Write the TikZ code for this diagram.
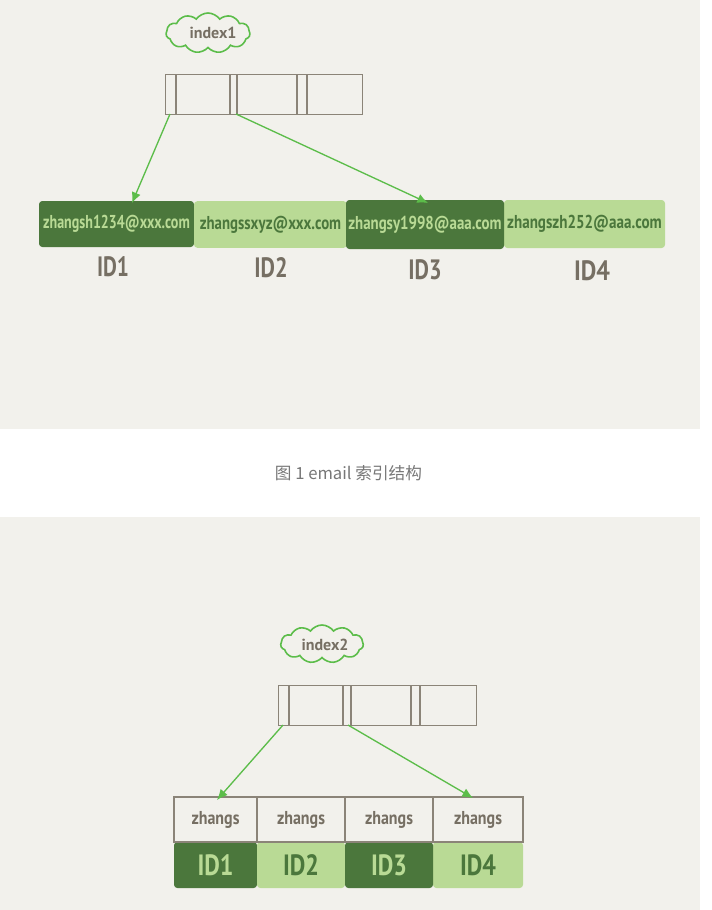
\documentclass[tikz,border=0pt]{standalone}
\usepackage{fontspec}
\setmainfont{PT Sans}
\newfontfamily\cjk{Noto Sans CJK SC}
\usetikzlibrary{shapes.symbols,arrows.meta,calc}
\definecolor{bg}{HTML}{F2F1EC}
\definecolor{dkg}{HTML}{4B773C}
\definecolor{ltg}{HTML}{B9DA95}
\definecolor{arr}{HTML}{5CBD4A}
\definecolor{boxc}{HTML}{8B8478}
\definecolor{txtg}{HTML}{766F63}
\definecolor{capc}{HTML}{777777}
\newcommand\squeeze[2]{\resizebox{#1}{\height}{#2}}
\begin{document}
\begin{tikzpicture}[x=0.75pt,y=-0.75pt,
  panel/.style={fill=bg,draw=none},
  cloudy/.style={cloud,cloud puffs=11,cloud puff arc=110,aspect=2.2,draw=arr,line width=1.2pt,fill=bg,inner sep=0pt},
  cloudtext/.style={text=txtg,font=\bfseries\fontsize{12}{12}\selectfont},
  boxline/.style={draw=boxc,line width=1.1pt},
  arrowst/.style={draw=arr,line width=1pt,-{Latex[length=8pt,width=7pt]}},
  darkbar/.style={fill=dkg,draw=none,rounded corners=2.5pt,inner sep=0pt,text=ltg},
  lightbar/.style={fill=ltg,draw=none,rounded corners=2.5pt,inner sep=0pt,text=dkg},
  idlab/.style={text=txtg,font=\bfseries\fontsize{21}{21}\selectfont,inner sep=0pt},
  cell/.style={draw=boxc,line width=1.1pt,inner sep=0pt,text=txtg,font=\bfseries\fontsize{14}{14}\selectfont},
  idcell/.style={inner sep=0pt,font=\bfseries\fontsize{22}{22}\selectfont}
]
\useasboundingbox (0,0) rectangle (712,910);
\fill[white] (0,0) rectangle (712,910);
\path[panel] (0,0) rectangle (700,429);
\path[panel] (0,517) rectangle (700,910);

% ---------- figure 1 ----------
\node[cloudy,minimum width=63pt,minimum height=30pt] (c1) at (208,33) {};
\node[cloudtext] (c1t) at (213,33) {index1};

\node[boxline,inner sep=0pt,minimum width=147.75pt,minimum height=30pt,anchor=north west] (ix1) at (165,74) {};
\foreach \xx in {176,230,237,297,307} \draw[boxline] (\xx,74) -- (\xx,114);

\node[darkbar,minimum width=116.25pt,minimum height=34.5pt] (e1) at (116.5,224) {\squeeze{110pt}{\bfseries\fontsize{14}{14}\selectfont zhangsh1234@xxx.com}};
\node[lightbar,minimum width=114.75pt,minimum height=35pt] (e2) at (270.5,224.5) {\squeeze{106pt}{\bfseries\fontsize{14}{14}\selectfont zhangssxyz@xxx.com}};
\node[lightbar,minimum width=120.75pt,minimum height=36pt] (e4) at (584.5,224) {\squeeze{116pt}{\bfseries\fontsize{14}{14}\selectfont zhangszh252@aaa.com}};
\node[darkbar,minimum width=118.5pt,minimum height=36.75pt] (e3) at (425,224.5) {\squeeze{115pt}{\bfseries\fontsize{14}{14}\selectfont zhangsy1998@aaa.com}};

\node[idlab] (id1) at (113,267) {\squeeze{24pt}{ID1}};
\node[idlab] (id2) at (271,268) {\squeeze{25pt}{ID2}};
\node[idlab] (id3) at (425,270) {\squeeze{25pt}{ID3}};
\node[idlab] (id4) at (592,271) {\squeeze{27pt}{ID4}};

\coordinate (s1) at (170,114);
\coordinate (t1) at (132,203);
\coordinate (s2) at (236,114);
\coordinate (t2) at (428,203);
\draw[arrowst] (s1) -- (t1);
\draw[arrowst] (s2) -- (t2);

% caption
\node[text=capc,font=\cjk\fontsize{12.5}{14}\selectfont,inner sep=0pt] (cap) at (348.5,473) {图 1 email 索引结构};

% ---------- figure 2 ----------
\node[cloudy,minimum width=62pt,minimum height=28.5pt] (c2) at (322,644) {};
\node[cloudtext] (c2t) at (325,645) {index2};

\node[boxline,inner sep=0pt,minimum width=148.5pt,minimum height=30pt,anchor=north west] (ix2) at (278,685) {};
\foreach \xx in {289,343,351,411,420} \draw[boxline] (\xx,685) -- (\xx,725);

% bottom coloured row
\node[darkbar,idcell,minimum width=62.25pt,minimum height=34.5pt] (b1) at (215.5,865) {\squeeze{27pt}{ID1}};
\node[lightbar,idcell,minimum width=66pt,minimum height=34.5pt] (b2) at (301,865) {\squeeze{27pt}{ID2}};
\node[lightbar,idcell,minimum width=67.5pt,minimum height=34.5pt] (b4) at (478,865) {\squeeze{27pt}{ID4}};
\node[darkbar,idcell,minimum width=66pt,minimum height=34.5pt] (b3) at (389,865) {\squeeze{27pt}{ID3}};

% top row of cells
\node[cell,minimum width=62.25pt,minimum height=33.75pt] (z1) at (215.5,819.5) {\squeeze{36pt}{zhangs}};
\node[cell,minimum width=66pt,minimum height=33.75pt] (z2) at (301,819.5) {\squeeze{36pt}{zhangs}};
\node[cell,minimum width=66pt,minimum height=33.75pt] (z3) at (389,819.5) {\squeeze{36pt}{zhangs}};
\node[cell,minimum width=67.5pt,minimum height=33.75pt] (z4) at (478,819.5) {\squeeze{36pt}{zhangs}};

\coordinate (s3) at (283,725);
\coordinate (t3) at (217,800);
\coordinate (s4) at (348,725);
\coordinate (t4) at (473,798);
\draw[arrowst] (s3) -- (t3);
\draw[arrowst] (s4) -- (t4);
\end{tikzpicture}
\end{document}
